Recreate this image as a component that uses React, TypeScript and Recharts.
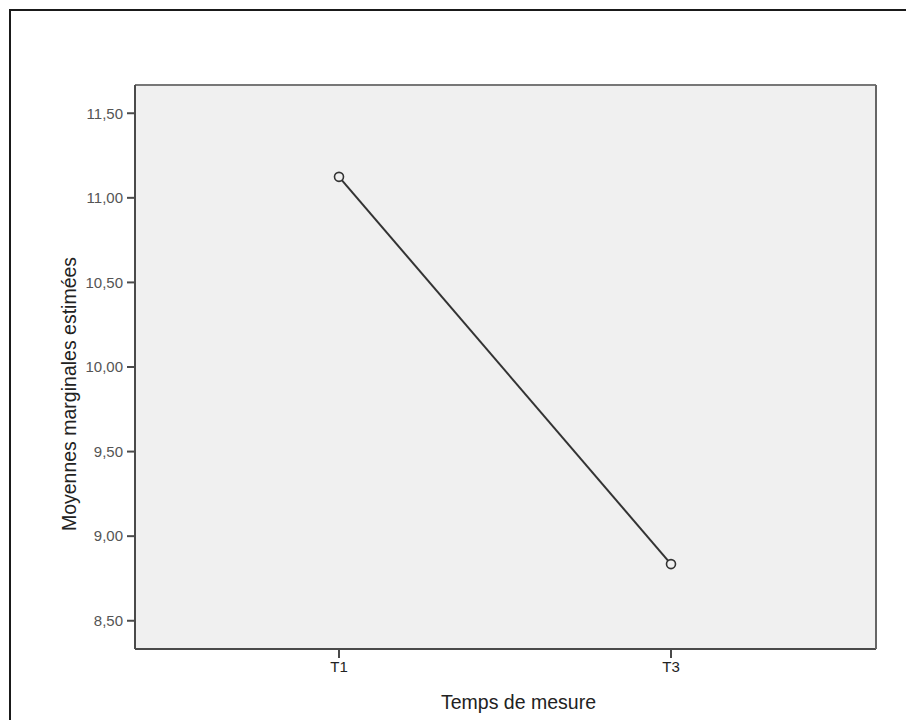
import React from "react";
import { LineChart, Line, XAxis, YAxis, CartesianGrid } from "recharts";

const categories = ["T1", "T3"];
const means = [11.124, 8.835];
const yTicks = [8.5, 9.0, 9.5, 10.0, 10.5, 11.0, 11.5];
const yDomain = [8.333, 11.667];
const xTitle = "Temps de mesure";
const yTitle = "Moyennes marginales estimées";

const data = categories.map((c, i) => ({ temps: c, moyenne: means[i] }));

const fmt = (v: number) => v.toFixed(2).replace(".", ",");

const YTitle = (props: any) => {
  const vb = props.viewBox || {};
  const cx = vb.x + 58;
  const cy = vb.y + vb.height / 2 + 27;
  return (
    <text
      x={cx}
      y={cy}
      transform={`rotate(-90, ${cx}, ${cy})`}
      textAnchor="middle"
      dominantBaseline="central"
      fontFamily="'Liberation Sans', Arial, sans-serif"
      fontSize={19.5}
      fill="#222"
    >
      {yTitle}
    </text>
  );
};

const XTitle = (props: any) => {
  const vb = props.viewBox || {};
  const cx = vb.x + vb.width / 2 + 13;
  const cy = vb.y + 60;
  return (
    <text
      x={cx}
      y={cy}
      textAnchor="middle"
      fontFamily="'Liberation Sans', Arial, sans-serif"
      fontSize={19.5}
      fill="#222"
    >
      {xTitle}
    </text>
  );
};

export default function App() {
  return (
    <div
      style={{
        position: "absolute",
        left: 9,
        top: 9,
        width: 897,
        height: 711,
        overflow: "hidden",
        background: "#fff",
      }}
    >
      <div
        style={{
          position: "absolute",
          left: 0,
          top: 0,
          width: 897,
          height: 711,
          borderTop: "2px solid #1a1a1a",
          borderLeft: "2px solid #1a1a1a",
          boxSizing: "border-box",
        }}
      />
      <div style={{ position: "absolute", left: 2, top: 2 }}>
        <LineChart
          width={895}
          height={709}
          data={data}
          margin={{ top: 73, right: 29, left: 0, bottom: 0 }}
        >
          <CartesianGrid horizontal={false} vertical={false} fill="#f0f0f0" fillOpacity={1} />
          <XAxis
            dataKey="temps"
            type="category"
            padding={{ left: 204, right: 205 }}
            height={71}
            axisLine={{ stroke: "#4a4a4a", strokeWidth: 2 }}
            tickLine={{ stroke: "#4a4a4a", strokeWidth: 2 }}
            tickSize={9}
            tickMargin={3}
            tick={{ fill: "#222", fontSize: 15, fontFamily: "'Liberation Sans Narrow', 'Liberation Sans', Arial, sans-serif" }}
            label={<XTitle />}
          />
          <XAxis
            xAxisId="top"
            dataKey="temps"
            orientation="top"
            height={1}
            tick={false}
            tickLine={false}
            axisLine={{ stroke: "#777", strokeWidth: 2 }}
          />
          <YAxis
            type="number"
            domain={yDomain}
            ticks={yTicks}
            width={124}
            allowDataOverflow
            tickFormatter={fmt}
            axisLine={{ stroke: "#4a4a4a", strokeWidth: 2 }}
            tickLine={{ stroke: "#4a4a4a", strokeWidth: 2 }}
            tickSize={8}
            tickMargin={4}
            tick={{ fill: "#555", fontSize: 15, fontFamily: "'Liberation Sans', Arial, sans-serif" }}
            label={<YTitle />}
          />
          <YAxis
            yAxisId="right"
            orientation="right"
            type="number"
            domain={[0, 1]}
            width={1}
            tick={false}
            tickLine={false}
            axisLine={{ stroke: "#666", strokeWidth: 2 }}
          />
          <Line
            type="linear"
            dataKey="moyenne"
            stroke="#333"
            strokeWidth={2}
            isAnimationActive={false}
            dot={{ r: 4.5, stroke: "#333", strokeWidth: 1.6, fill: "#f0f0f0", fillOpacity: 1 }}
            activeDot={false}
          />
        </LineChart>
      </div>
    </div>
  );
}
